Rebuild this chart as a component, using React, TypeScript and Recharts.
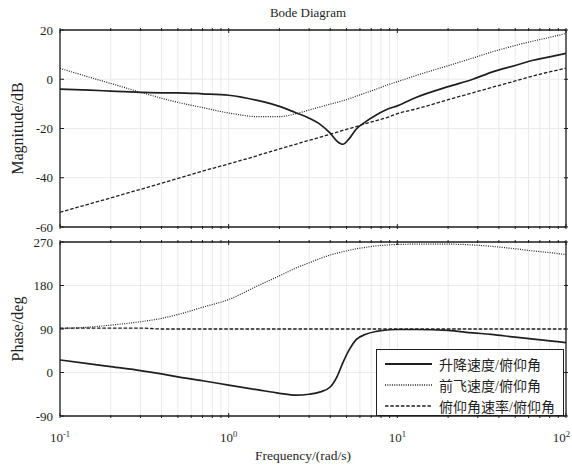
import React from 'react';
import { LineChart, Line, XAxis, YAxis, CartesianGrid, Legend } from 'recharts';

// frequency grid (rad/s) shared by every curve
const FREQ = [0.1, 0.15, 0.2, 0.3, 0.4, 0.5, 0.7, 1, 1.5, 2, 2.5, 3, 3.5, 4, 4.4, 4.75, 5.2, 5.7, 6.5, 7.5, 9, 10, 13, 20, 28, 36, 50, 62, 80, 100];

// magnitude, dB
const MAG_LIFT = [-4.0, -4.4, -4.8, -5.3, -5.5, -5.5, -5.9, -6.5, -8.7, -11.0, -13.6, -15.8, -18.4, -21.9, -25.2, -26.4, -24.0, -20.3, -17.2, -14.5, -11.8, -10.8, -7.3, -3.0, 0.0, 2.8, 5.6, 7.5, 9.1, 10.5];
const MAG_FWD = [4.4, 0.8, -1.7, -5.3, -7.7, -9.4, -11.5, -13.7, -15.2, -15.2, -14.0, -12.5, -11.2, -10.1, -9.4, -8.7, -7.9, -6.9, -5.5, -4.0, -2.0, -1.0, 1.6, 5.5, 8.6, 11.0, 13.7, 15.3, 17.0, 18.6];
const MAG_RATE = [-54.0, -50.6, -48.2, -44.7, -42.2, -40.3, -37.3, -34.4, -30.9, -28.3, -26.4, -24.8, -23.5, -22.3, -21.5, -20.8, -20.0, -19.2, -18.0, -16.8, -15.2, -14.0, -12.0, -8.3, -5.5, -3.4, -0.7, 1.1, 3.0, 4.5];

// phase, deg
const PH_LIFT = [26, 18, 12, 4, -3, -9, -17, -26, -36, -43, -47, -45, -40, -30, -8, 20, 48, 68, 79, 85, 88.5, 89, 89, 87, 82, 79, 73, 69.5, 65.5, 62];
const PH_FWD = [91, 94, 98, 105, 112, 120, 135, 151, 180, 200, 216, 227, 236, 243, 247, 250, 253, 256, 259, 262, 264, 265, 265.5, 265.5, 264, 261, 256, 252, 248, 244];
const PH_RATE = [92, 92, 92, 92, 90, 90, 90, 90, 90, 90, 90, 90, 90, 90, 90, 90, 90, 90, 90, 90, 90, 90, 90, 90, 90, 90, 90, 90, 90, 90];

const X_TICKS = [0.1, 0.2, 0.3, 0.4, 0.5, 0.6, 0.7, 0.8, 0.9, 1, 2, 3, 4, 5, 6, 7, 8, 9, 10, 20, 30, 40, 50, 60, 70, 80, 90, 100];
const DECADES = [0.1, 1, 10, 100];
const DECADE_EXP = ['-1', '0', '1', '2'];
const MAG_TICKS = [-60, -40, -20, 0, 20];
const PH_TICKS = [-90, 0, 90, 180, 270];

const SERIES = [
  { key: 'lift', name: '升降速度/俯仰角', dash: undefined, width: 1.7 },
  { key: 'fwd', name: '前飞速度/俯仰角', dash: '1 1.3', width: 1.2 },
  { key: 'rate', name: '俯仰角速率/俯仰角', dash: '3.5 1.8', width: 1.3 },
];

const magData = FREQ.map((f, i) => ({ f, lift: MAG_LIFT[i], fwd: MAG_FWD[i], rate: MAG_RATE[i] }));
const phData = FREQ.map((f, i) => ({ f, lift: PH_LIFT[i], fwd: PH_FWD[i], rate: PH_RATE[i] }));

const FONT = "'Liberation Serif', 'Times New Roman', 'Noto Sans CJK SC', serif";
const INK = '#1f1f1f';
const AXIS = { stroke: INK, strokeWidth: 1.3 };

const XTick = (props: any) => {
  const { x, y, payload, side, labels } = props;
  const idx = DECADES.indexOf(payload.value);
  const len = idx >= 0 ? 5 : 3;
  const dir = side === 'bottom' ? -1 : 1;
  const last = idx === DECADES.length - 1;
  return (
    <g>
      <line x1={x} y1={y} x2={x} y2={y + dir * len} stroke={INK} strokeWidth={1} />
      {labels && idx >= 0 && (
        <text x={last ? x + 4 : x} y={y + 24} textAnchor={last ? 'end' : 'middle'} fontSize={13} fill={INK} fontFamily={FONT}>
          10<tspan dy={-5} fontSize={8.5}>{DECADE_EXP[idx]}</tspan>
        </text>
      )}
    </g>
  );
};

const YTickLeft = (props: any) => {
  const { x, y, payload } = props;
  return (
    <g>
      <line x1={x + 7} y1={y} x2={x + 11} y2={y} stroke={INK} strokeWidth={1} />
      <text x={x} y={y} dy="0.35em" textAnchor="end" fontSize={13} fill={INK} fontFamily={FONT}>
        {payload.value}
      </text>
    </g>
  );
};

const YTickRight = (props: any) => {
  const { x, y } = props;
  return <line x1={x} y1={y} x2={x - 4} y2={y} stroke={INK} strokeWidth={1} />;
};

const LegendBox = () => (
  <div style={{ width: 188, height: 67, boxSizing: 'border-box', border: `1.3px solid ${INK}`, background: '#fff', paddingTop: 3, fontFamily: FONT }}>
    {SERIES.map(s => (
      <div key={s.key} style={{ display: 'flex', alignItems: 'center', height: 21.3 }}>
        <svg width={48} height={8} style={{ marginLeft: 8 }}>
          <line x1={0} y1={4} x2={47} y2={4} stroke={INK} strokeWidth={s.width + 0.3} strokeDasharray={s.dash} />
        </svg>
        <span style={{ marginLeft: 6, fontSize: 14, color: INK, whiteSpace: 'nowrap' }}>{s.name}</span>
      </div>
    ))}
  </div>
);

const renderLines = () =>
  SERIES.map(s => (
    <Line
      key={s.key}
      xAxisId="b"
      yAxisId="l"
      type="monotone"
      dataKey={s.key}
      name={s.name}
      stroke={INK}
      strokeWidth={s.width}
      strokeDasharray={s.dash}
      dot={false}
      activeDot={false}
      isAnimationActive={false}
    />
  ));

export default function App() {
  return (
    <div style={{ position: 'absolute', left: 0, top: 0, width: 572, height: 465, background: '#fff', fontFamily: FONT, color: INK }}>
      <div style={{ position: 'absolute', left: 0, width: 616, top: 5, lineHeight: '15px', textAlign: 'center', fontSize: 13 }}>Bode Diagram</div>

      {/* Magnitude */}
      <div style={{ position: 'absolute', left: 0, top: 0 }}>
        <LineChart width={572} height={240} data={magData} margin={{ top: 0, right: 0, bottom: 0, left: 0 }}>
          <CartesianGrid xAxisId="b" yAxisId="l" stroke="#eaeaea" strokeWidth={1} />
          <XAxis xAxisId="b" dataKey="f" type="number" scale="log" domain={[0.1, 100]} ticks={X_TICKS} interval={0} height={13} tickSize={0} tick={(p: any) => <XTick {...p} side="bottom" labels={false} />} axisLine={AXIS} allowDataOverflow />
          <XAxis xAxisId="t" orientation="top" dataKey="f" type="number" scale="log" domain={[0.1, 100]} ticks={X_TICKS} interval={0} height={30} tickSize={0} tick={(p: any) => <XTick {...p} side="top" />} axisLine={AXIS} allowDataOverflow />
          <YAxis yAxisId="l" type="number" domain={[-60, 20]} ticks={MAG_TICKS} interval={0} width={60} tickSize={0} tickMargin={7} tick={YTickLeft} axisLine={AXIS} allowDataOverflow
            label={{ value: 'Magnitude/dB', angle: -90, position: 'center', dx: -13, fontSize: 16, fill: INK }} />
          <YAxis yAxisId="r" orientation="right" type="number" domain={[-60, 20]} ticks={MAG_TICKS} interval={0} width={6} tickSize={0} tick={YTickRight} axisLine={AXIS} allowDataOverflow />
          {renderLines()}
        </LineChart>
      </div>

      {/* Phase */}
      <div style={{ position: 'absolute', left: 0, top: 230 }}>
        <LineChart width={572} height={235} data={phData} margin={{ top: 0, right: 0, bottom: 0, left: 0 }}>
          <CartesianGrid xAxisId="b" yAxisId="l" stroke="#eaeaea" strokeWidth={1} />
          <XAxis xAxisId="b" dataKey="f" type="number" scale="log" domain={[0.1, 100]} ticks={X_TICKS} interval={0} height={49} tickSize={0} tick={(p: any) => <XTick {...p} side="bottom" labels />} axisLine={AXIS} allowDataOverflow
            label={{ value: 'Frequency/(rad/s)', position: 'insideBottom', offset: 5, dx: -10, fontSize: 13.5, fill: INK }} />
          <XAxis xAxisId="t" orientation="top" dataKey="f" type="number" scale="log" domain={[0.1, 100]} ticks={X_TICKS} interval={0} height={12} tickSize={0} tick={(p: any) => <XTick {...p} side="top" />} axisLine={AXIS} allowDataOverflow />
          <YAxis yAxisId="l" type="number" domain={[-90, 270]} ticks={PH_TICKS} interval={0} width={60} tickSize={0} tickMargin={7} tick={YTickLeft} axisLine={AXIS} allowDataOverflow
            label={{ value: 'Phase/deg', angle: -90, position: 'center', dx: -13, fontSize: 16, fill: INK }} />
          <YAxis yAxisId="r" orientation="right" type="number" domain={[-90, 270]} ticks={PH_TICKS} interval={0} width={6} tickSize={0} tick={YTickRight} axisLine={AXIS} allowDataOverflow />
          {renderLines()}
          <Legend layout="vertical" align="center" verticalAlign="middle" content={LegendBox}
            wrapperStyle={{ position: 'absolute', left: 376, top: 119, width: 188, height: 67 }} />
        </LineChart>
      </div>
    </div>
  );
}
